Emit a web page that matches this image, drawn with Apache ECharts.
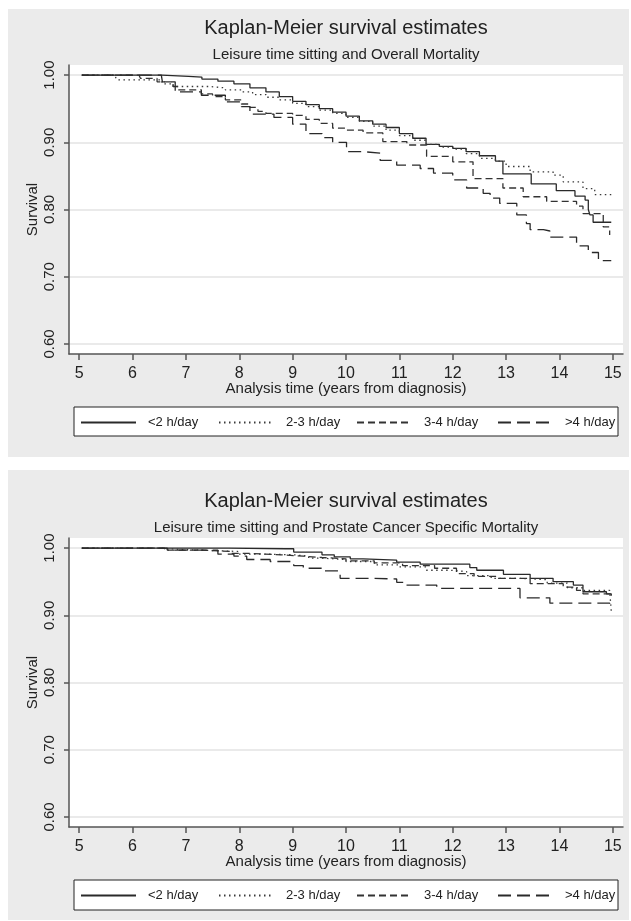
<!DOCTYPE html>
<html><head><meta charset="utf-8">
<script src="https://cdn.jsdelivr.net/npm/echarts@6/dist/echarts.min.js"></script>
<style>html,body{margin:0;padding:0;background:#fff}#c{width:631px;height:921px}</style>
</head><body><div id="c"></div><script>
// ---- data ----
const groupNames = ['<2 h/day', '2-3 h/day', '3-4 h/day', '>4 h/day'];
const xTicks = [5, 6, 7, 8, 9, 10, 11, 12, 13, 14, 15];
const yTicks = [0.6, 0.7, 0.8, 0.9, 1.0];
const mainTitles = ['Kaplan-Meier survival estimates', 'Kaplan-Meier survival estimates'];
const subTitles = ['Leisure time sitting and Overall Mortality', 'Leisure time sitting and Prostate Cancer Specific Mortality'];
const xAxisTitle = 'Analysis time (years from diagnosis)';
const yAxisTitle = 'Survival';

// Overall mortality
const overallLt2 = [[5.05,1.000],[6.50,1.000],[6.55,0.998],[7.05,0.997],[7.30,0.994],[7.60,0.991],[7.90,0.987],[8.20,0.981],[8.50,0.975],[8.75,0.968],[9.00,0.961],[9.25,0.956],[9.50,0.950],[9.75,0.945],[10.00,0.939],[10.25,0.932],[10.50,0.927],[10.75,0.922],[11.00,0.913],[11.25,0.906],[11.50,0.897],[11.75,0.894],[12.00,0.891],[12.25,0.886],[12.50,0.880],[12.80,0.872],[12.94,0.853],[13.47,0.838],[13.94,0.828],[14.29,0.820],[14.48,0.814],[14.54,0.800],[14.57,0.792],[14.63,0.781],[14.97,0.781]];
const overall23 = [[5.05,1.000],[5.67,1.000],[5.70,0.993],[6.50,0.993],[6.55,0.987],[6.76,0.983],[7.44,0.981],[7.74,0.978],[8.04,0.975],[8.25,0.971],[8.50,0.967],[8.75,0.963],[9.00,0.958],[9.25,0.953],[9.50,0.948],[9.75,0.943],[10.00,0.937],[10.25,0.931],[10.50,0.924],[10.75,0.918],[11.00,0.910],[11.25,0.903],[11.50,0.897],[11.75,0.893],[12.00,0.890],[12.25,0.883],[12.50,0.876],[12.80,0.872],[13.00,0.864],[13.45,0.856],[13.88,0.851],[14.07,0.841],[14.44,0.831],[14.66,0.822],[14.97,0.822]];
const overall34 = [[5.05,1.000],[6.12,1.000],[6.15,0.995],[6.46,0.990],[6.76,0.983],[6.85,0.978],[7.29,0.972],[7.50,0.968],[7.74,0.963],[8.04,0.957],[8.20,0.952],[8.35,0.946],[8.50,0.943],[9.00,0.940],[9.25,0.934],[9.50,0.928],[9.75,0.921],[10.00,0.918],[10.32,0.914],[10.69,0.901],[11.14,0.896],[11.51,0.879],[12.00,0.871],[12.38,0.846],[12.94,0.832],[13.32,0.819],[13.76,0.812],[14.32,0.805],[14.44,0.794],[14.82,0.774],[14.94,0.762]];
const overallGt4 = [[5.05,1.000],[6.54,1.000],[6.56,0.990],[6.80,0.975],[7.29,0.970],[7.74,0.960],[8.04,0.953],[8.20,0.942],[8.65,0.937],[9.00,0.927],[9.25,0.913],[9.55,0.907],[9.75,0.900],[10.01,0.886],[10.32,0.884],[10.64,0.873],[10.95,0.866],[11.39,0.861],[11.64,0.854],[12.00,0.844],[12.26,0.832],[12.57,0.824],[12.70,0.817],[12.88,0.809],[13.20,0.792],[13.38,0.779],[13.45,0.770],[13.70,0.768],[13.82,0.759],[14.32,0.746],[14.54,0.736],[14.73,0.724],[14.97,0.724]];

// Prostate cancer specific mortality
const pcsmLt2 = [[5.05,1.000],[7.74,1.000],[7.80,0.999],[8.87,0.999],[9.02,0.994],[9.55,0.990],[9.78,0.987],[10.08,0.984],[10.32,0.982],[10.95,0.979],[11.39,0.976],[12.32,0.971],[12.45,0.967],[12.95,0.961],[13.45,0.955],[13.88,0.950],[14.26,0.945],[14.44,0.935],[14.88,0.932],[14.97,0.929]];
const pcsm23 = [[5.05,1.000],[6.52,1.000],[6.55,0.998],[6.89,0.997],[7.29,0.995],[7.97,0.991],[8.50,0.990],[9.02,0.988],[9.30,0.985],[9.55,0.983],[10.00,0.980],[10.53,0.975],[10.98,0.972],[11.51,0.967],[11.96,0.965],[12.26,0.959],[12.72,0.955],[13.25,0.953],[13.77,0.948],[14.15,0.941],[14.45,0.937],[14.94,0.936],[14.97,0.906]];
const pcsm34 = [[5.05,1.000],[6.52,1.000],[6.60,0.997],[7.30,0.995],[7.83,0.992],[8.20,0.990],[8.80,0.988],[9.20,0.986],[9.55,0.984],[10.00,0.981],[10.53,0.978],[11.06,0.974],[11.66,0.970],[12.07,0.962],[12.40,0.958],[12.82,0.955],[13.45,0.947],[14.07,0.942],[14.32,0.937],[14.44,0.932],[14.97,0.931]];
const pcsmGt4 = [[5.05,1.000],[6.61,1.000],[6.65,0.997],[7.60,0.991],[7.90,0.988],[8.14,0.983],[8.58,0.980],[9.02,0.974],[9.20,0.970],[9.57,0.966],[9.89,0.955],[10.46,0.954],[10.95,0.949],[11.14,0.945],[11.70,0.940],[13.20,0.940],[13.26,0.926],[13.82,0.918],[14.94,0.918],[14.97,0.913]];

const panelData = [
  [overallLt2, overall23, overall34, overallGt4],
  [pcsmLt2, pcsm23, pcsm34, pcsmGt4]
];

// ---- styles ----
const font = '"Liberation Sans", Arial, Helvetica, sans-serif';
const ink = '#222';
const axisInk = '#555';
const dashes = ['solid', [1.5, 3.5], [7, 4], [13, 6]];
const lineColors = ['#2a2a2a', '#3a3a3a', '#333', '#2a2a2a'];
const OFF = 473;
const legendX = [80, 218, 356, 497];

const grids = [], xAxes = [], yAxes = [], series = [], legends = [], titles = [], graphics = [];
for (let p = 0; p < 2; p++) {
  const o = p * OFF;
  grids.push({left: 69, top: 65 + o, width: 554, height: 289, show: true, backgroundColor: '#fff', borderWidth: 0});
  xAxes.push({
    type: 'value', gridIndex: p, min: 4.81, max: 15.19,
    name: xAxisTitle, nameLocation: 'middle', nameGap: 27, nameMoveOverlap: false,
    nameTextStyle: {fontFamily: font, fontSize: 15, color: ink},
    axisLine: {show: true, onZero: false, lineStyle: {color: axisInk, width: 1.5}},
    axisTick: {show: true, length: 6, customValues: xTicks, lineStyle: {color: axisInk, width: 1.5}},
    axisLabel: {customValues: xTicks, fontFamily: font, fontSize: 16, color: ink, margin: 12},
    splitLine: {show: false}
  });
  yAxes.push({
    type: 'value', gridIndex: p, min: 0.585, max: 1.015,
    name: yAxisTitle, nameLocation: 'middle', nameGap: 29, nameRotate: 90, nameMoveOverlap: false,
    nameTextStyle: {fontFamily: font, fontSize: 15, color: ink},
    axisLine: {show: true, onZero: false, lineStyle: {color: axisInk, width: 1.5}},
    axisTick: {show: true, length: 5, customValues: yTicks, lineStyle: {color: axisInk, width: 1.5}},
    axisLabel: {customValues: yTicks, rotate: 90, formatter: v => v.toFixed(2), fontFamily: font, fontSize: 15, color: ink, margin: 12},
    splitLine: {show: true, lineStyle: {color: '#e3e3e3', width: 1.5}}
  });
  for (let k = 0; k < 4; k++) {
    series.push({
      type: 'line', name: groupNames[k], xAxisIndex: p, yAxisIndex: p,
      data: panelData[p][k], step: 'end', symbol: 'none', animation: false,
      lineStyle: {color: lineColors[k], width: 1.3, type: dashes[k]},
      itemStyle: {color: lineColors[k]}
    });
    legends.push({
      left: legendX[k], top: 416 + o, data: [groupNames[k]], selectedMode: false,
      itemWidth: 55, itemHeight: 12, z: 10, padding: 0,
      itemStyle: {color: 'rgba(0,0,0,0)', borderWidth: 0, opacity: 0},
      lineStyle: {opacity: 1},
      textStyle: {fontFamily: font, fontSize: 13, color: ink, padding: [0, 0, 0, 7]}
    });
  }
  titles.push({text: mainTitles[p], left: 346, top: 18 + o, textAlign: 'center', padding: 0,
    textStyle: {fontFamily: font, fontSize: 20, fontWeight: 'normal', color: ink}});
  titles.push({text: subTitles[p], left: 346, top: 47 + o, textAlign: 'center', padding: 0,
    textStyle: {fontFamily: font, fontSize: 15, fontWeight: 'normal', color: ink}});
}
graphics.push({type: 'rect', z: -100, shape: {x: 8, y: 9, width: 621, height: 448}, style: {fill: '#ebebeb'}});
graphics.push({type: 'rect', z: -100, shape: {x: 8, y: 470, width: 621, height: 450}, style: {fill: '#ebebeb'}});
graphics.push({type: 'rect', z: 1, shape: {x: 74, y: 407, width: 544, height: 29}, style: {fill: '#fff', stroke: '#222', lineWidth: 1}});
graphics.push({type: 'rect', z: 1, shape: {x: 74, y: 407 + OFF, width: 544, height: 30}, style: {fill: '#fff', stroke: '#222', lineWidth: 1}});

const chart = echarts.init(document.getElementById('c'));
chart.setOption({
  backgroundColor: '#fff', animation: false,
  title: titles, grid: grids, xAxis: xAxes, yAxis: yAxes, series: series, legend: legends,
  graphic: {elements: graphics}
});
</script></body></html>
